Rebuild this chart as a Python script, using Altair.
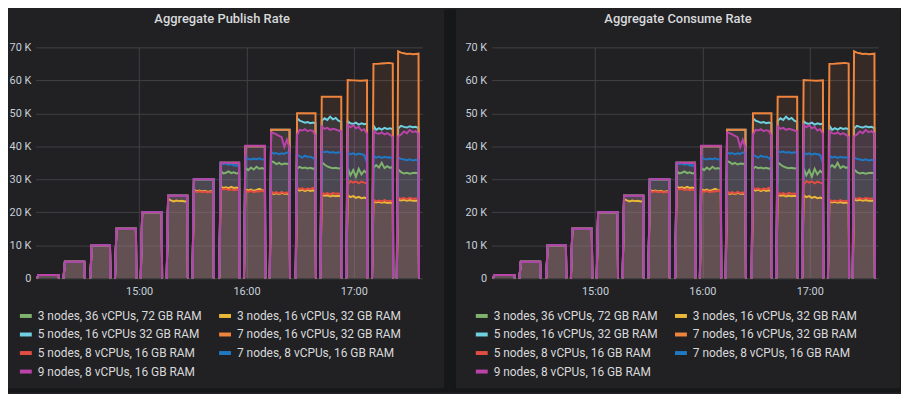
import altair as alt
import pandas as pd

# ---------------- data ----------------
# run windows, minutes after 14:00
RUN_START = [2.9, 17.7, 32.7, 46.5, 60.9, 75.4, 89.8, 104.8, 118.6, 133.0, 147.5, 161.3, 175.8, 190.2, 204.0]
RUN_END = [14.9, 29.3, 43.7, 58.2, 72.6, 87.0, 101.5, 115.9, 130.3, 144.1, 158.6, 173.0, 187.4, 201.8, 216.2]

# rates in thousands of msgs/s, samples per run
GREEN = [[1], [5], [10], [15], [20], [25], [30],
         [32.6, 31.8, 32.0, 32.4, 31.9, 32.1, 31.8, 32.0],
         [33.5, 32.8, 33.6, 33.0, 33.8, 33.2, 33.4, 33.1],
         [35.5, 35.2, 34.6, 35.0, 34.5, 34.8, 34.7, 34.6],
         [33.2, 33.8, 33.4, 33.6, 33.3, 33.5, 33.2, 33.4],
         [35.2, 34.5, 33.9, 33.6, 33.4, 33.5, 33.3, 33.4],
         [33.5, 31.2, 32.8, 30.8, 33.2, 31.5, 32.6, 31.8],
         [33.5, 34.3, 33.6, 35.0, 33.4, 34.0, 33.5, 33.8],
         [33.0, 32.2, 31.8, 32.0, 31.7, 31.9, 32.0, 31.8]]
YELLOW = [[1], [5], [10], [15], [20],
          [24.0, 23.6, 23.3, 23.6, 23.4, 23.5, 23.3, 23.4],
          [26.8, 26.4, 26.6, 26.3, 26.5, 26.2, 26.4, 26.3],
          [27.8, 27.4, 27.6, 27.3, 27.7, 27.4, 27.5, 27.2],
          [27.0, 26.6, 26.9, 26.5, 26.8, 27.1, 26.7, 26.6],
          [26.0, 25.6, 25.8, 25.5, 25.9, 25.6, 25.7, 25.5],
          [27.0, 26.6, 26.9, 26.4, 26.8, 26.5, 26.7, 26.4],
          [25.3, 25.0, 25.2, 24.8, 25.1, 24.9, 25.0, 24.8],
          [25.2, 24.6, 24.9, 24.4, 24.7, 24.3, 24.5, 24.2],
          [23.4, 23.0, 23.2, 22.9, 23.1, 22.8, 23.0, 22.9],
          [23.9, 23.6, 23.8, 23.5, 23.7, 23.5, 23.6, 23.4]]
CYAN = [[1], [5], [10], [15], [20], [25], [30], [35], [40], [45],
        [48.5, 47.8, 47.5, 47.2, 47.4, 47.0, 47.2, 47.0],
        [47.8, 48.5, 48.0, 49.0, 48.2, 48.6, 47.8, 47.4],
        [47.6, 47.0, 46.8, 47.2, 46.6, 47.0, 46.7, 46.9],
        [46.3, 45.0, 45.5, 45.1, 45.6, 45.3, 45.5, 45.2],
        [45.4, 46.2, 45.9, 45.7, 46.1, 45.8, 45.9, 45.5]]
ORANGE = [[1], [5], [10], [15], [20], [25], [30], [35], [40], [45], [50], [55],
          [60.1, 60.0, 59.9, 60.0],
          [65.0, 65.0, 65.1, 65.2, 65.3, 65.1],
          [68.8, 68.4, 68.2, 68.0, 68.1, 67.9, 68.0, 68.1]]
RED = [[1], [5], [10], [15], [20], [25],
       [26.5, 26.2, 26.4, 26.1, 26.3, 26.0, 26.2, 26.3],
       [27.3, 26.9, 27.1, 26.8, 27.0, 26.7, 26.9, 26.8],
       [26.6, 26.2, 26.5, 26.1, 26.4, 26.3, 26.6, 26.2],
       [26.3, 25.8, 26.1, 25.7, 26.2, 25.8, 26.0, 25.9],
       [27.5, 27.0, 27.3, 26.9, 27.2, 27.0, 27.4, 27.1],
       [26.0, 25.5, 25.8, 25.4, 25.9, 25.6, 25.7, 25.5],
       [28.2, 29.5, 29.0, 29.4, 28.8, 29.3, 29.0, 28.8],
       [23.8, 23.4, 23.6, 23.3, 23.7, 23.4, 23.5, 23.3],
       [24.5, 24.1, 24.3, 24.0, 24.4, 24.1, 24.2, 24.0]]
BLUE = [[1], [5], [10], [15], [20], [25], [30],
        [35.0, 34.6, 34.8, 34.4, 34.6, 34.2, 34.3, 33.8],
        [36.8, 36.2, 36.0, 36.3, 36.1, 36.4, 36.0, 36.2],
        [38.3, 37.8, 38.0, 37.6, 37.9, 37.7, 38.2, 37.8],
        [37.5, 37.0, 36.6, 37.2, 36.8, 36.9, 36.5, 35.8],
        [38.6, 38.2, 38.4, 38.1, 38.3, 38.0, 38.2, 38.1],
        [38.0, 37.6, 37.9, 37.5, 37.8, 37.6, 37.4, 35.0],
        [37.2, 36.6, 36.9, 36.5, 36.8, 36.6, 36.7, 36.4],
        [36.6, 36.2, 36.0, 35.8, 36.1, 35.7, 35.9, 35.8]]
MAGENTA = [[1], [5], [10], [15], [20], [25], [30], [35], [40.2],
           [44.2, 44.0, 43.6, 43.2, 42.8, 39.8, 42.0, 39.5],
           [43.5, 45.0, 44.8, 45.2, 44.6, 44.9, 44.7, 43.2],
           [46.0, 45.3, 45.6, 45.0, 45.3, 45.1, 44.8, 44.6],
           [46.5, 45.8, 46.4, 45.5, 45.9, 44.8, 45.2, 43.8],
           [44.6, 44.0, 43.8, 44.2, 43.6, 44.0, 43.5, 42.8],
           [43.0, 43.6, 44.5, 44.0, 45.0, 44.3, 44.6, 43.8]]

SERIES_DATA = [GREEN, YELLOW, CYAN, ORANGE, RED, BLUE, MAGENTA]
LABELS_PUBLISH = ["3 nodes, 36 vCPUs, 72 GB RAM", "3 nodes, 16 vCPUs, 32 GB RAM",
                  "5 nodes, 16 vCPUs 32 GB RAM", "7 nodes, 16 vCPUs, 32 GB RAM",
                  "5 nodes, 8 vCPUs, 16 GB RAM", "7 nodes, 8 vCPUs, 16 GB RAM",
                  "9 nodes, 8 vCPUs, 16 GB RAM"]
LABELS_CONSUME = ["3 nodes, 36 vCPUs, 72 GB RAM", "3 nodes, 16 vCPUs, 32 GB RAM",
                  "5 nodes, 16 vCPUs, 32 GB RAM", "7 nodes, 16 vCPUs, 32 GB RAM",
                  "5 nodes, 8 vCPUs, 16 GB RAM", "7 nodes, 8 vCPUs, 16 GB RAM",
                  "9 nodes, 8 vCPUs, 16 GB RAM"]
COLORS = ["#7EB26D", "#EAB839", "#6ED0E0", "#EF843C", "#E24D42", "#1F78C1", "#BA43A9"]
TITLES = ["Aggregate Publish Rate", "Aggregate Consume Rate"]

BASE = pd.Timestamp("2019-06-01 14:00:00")
RAMP = 0.8   # minutes to reach plateau
DROP = 0.25  # minutes to fall back


def iso(minutes):
    t = BASE + pd.to_timedelta(minutes, unit="min")
    return t.strftime("%Y-%m-%dT%H:%M:%S") + "Z"


def build(labels):
    rows = []
    for si, (lab, runs) in enumerate(zip(labels, SERIES_DATA)):
        for ri, samples in enumerate(runs):
            t0, t1 = RUN_START[ri], RUN_END[ri]
            vals = samples if len(samples) > 1 else samples * 2
            n = len(vals)
            rows.append({"t": iso(t0), "v": 0, "s": lab, "o": si, "run": ri})
            for k, v in enumerate(vals):
                tm = t0 + RAMP + k * (t1 - t0 - RAMP) / (n - 1)
                rows.append({"t": iso(tm), "v": v * 1000, "s": lab, "o": si, "run": ri})
            rows.append({"t": iso(t1 + DROP), "v": 0, "s": lab, "o": si, "run": ri})
    return pd.DataFrame(rows)


PAGE = "#161719"
PANEL = "#212124"
TEXT = "#d8d9da"
W, H = 390, 233


def rect(color, x0, x1, y0, y1, opacity=1.0):
    one = pd.DataFrame({"k": [0]})
    return alt.Chart(one).mark_rect(color=color, opacity=opacity).encode(
        x=alt.value(x0), x2=alt.value(x1), y=alt.value(y0), y2=alt.value(y1))


def panel(idx, labels):
    df = build(labels)
    x = alt.X("t:T", title=None,
              scale=alt.Scale(type="utc",
                              domain=[alt.DateTime(year=2019, month=6, date=1, hours=14, minutes=2, seconds=12, utc=True),
                                      alt.DateTime(year=2019, month=6, date=1, hours=17, minutes=38, seconds=18, utc=True)]),
              axis=alt.Axis(format="%H:%M", grid=True, labelPadding=7,
                            values=[alt.DateTime(year=2019, month=6, date=1, hours=h, utc=True) for h in (15, 16, 17)]))
    y = alt.Y("v:Q", title=None, stack=None,
              scale=alt.Scale(domain=[0, 70000], nice=False),
              axis=alt.Axis(values=list(range(0, 70001, 10000)), grid=True, labelPadding=5,
                            labelExpr="datum.value == 0 ? '0' : (datum.value / 1000) + ' K'"))
    color_scale = alt.Scale(domain=labels, range=COLORS)
    legend = alt.Legend(orient="none", legendX=-18, legendY=263, direction="horizontal",
                        columns=2, title=None, symbolType="M-1,0H1", symbolSize=144,
                        symbolStrokeWidth=4, symbolOpacity=1, labelFont="Roboto", labelFontSize=12,
                        labelColor=TEXT, labelOffset=4, rowPadding=2.7,
                        columnPadding=9, padding=0, labelLimit=400)
    color = alt.Color("s:N", scale=color_scale, legend=legend)
    base = alt.Chart(df)
    area = base.mark_area(fillOpacity=0.1).encode(x=x, y=y, color=color, detail="run:N")
    line = base.mark_line(strokeWidth=2).encode(x=x, y=y, color=color, detail="run:N")
    one = pd.DataFrame({"title": [TITLES[idx]]})
    layers = []
    if idx == 0:
        layers.append(rect(PANEL, -28, 412, -38, 348, opacity=0))
        layers.append(rect(PAGE, 412, 424, -38, 348))
        layers.append(rect(PAGE, -28, 412, 344, 348))
    else:
        layers.append(rect(PANEL, -36, 413, -38, 348, opacity=0))
        layers.append(rect(PAGE, 412, 413, -38, 348))
        layers.append(rect(PAGE, -36, 412, 344, 348))
    layers.append(alt.Chart(one).mark_text(font="Roboto", fontSize=13, fontWeight=500, color=TEXT,
                                           align="center", baseline="alphabetic").encode(
        x=alt.value(188), y=alt.value(-25), text="title:N"))
    layers += [area, line]
    return alt.layer(*layers).properties(width=W, height=H)


chart = alt.hconcat(panel(0, LABELS_PUBLISH), panel(1, LABELS_CONSUME), spacing=70, bounds="flush") \
    .resolve_scale(color="independent") \
    .properties(padding=0) \
    .configure(background=PANEL, font="Roboto") \
    .configure_view(stroke=None) \
    .configure_axis(labelColor="#c7d0d9", labelFontSize=11, labelFont="Roboto", gridColor="#414145",
                    domain=False, ticks=False, tickSize=0)

chart.save("out.html", embed_options={"renderer": "svg", "actions": False})
